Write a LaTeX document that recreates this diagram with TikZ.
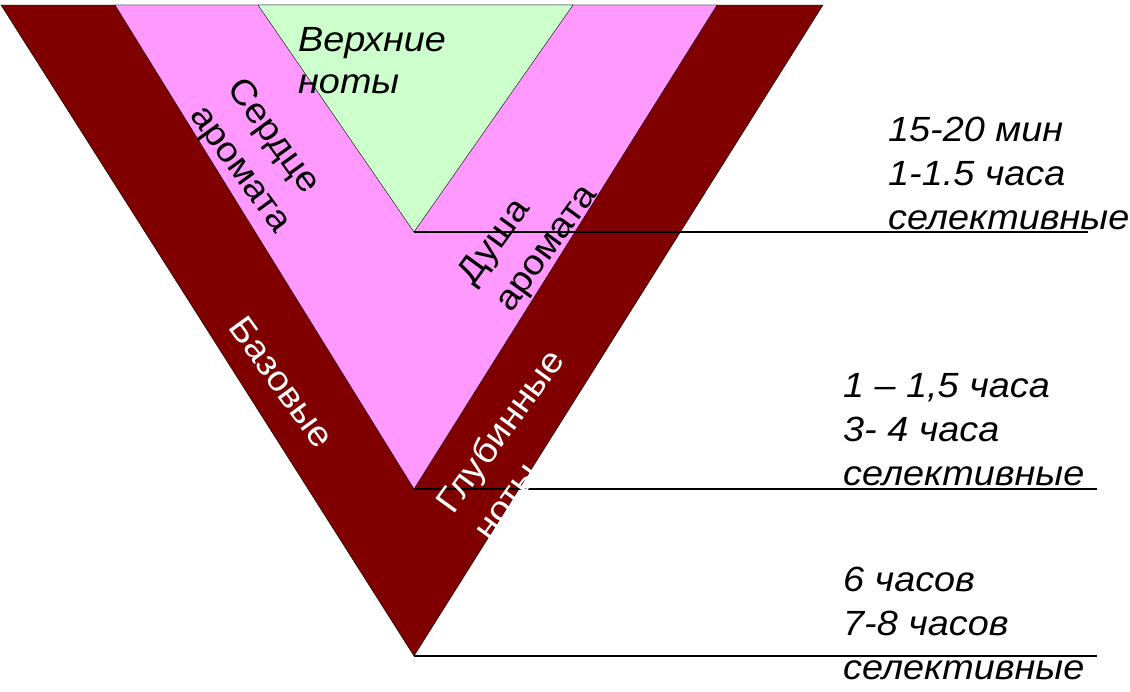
\documentclass[tikz,border=0pt]{standalone}
\usepackage{fontspec}
\setmainfont[FakeStretch=1.08]{Liberation Sans}
\definecolor{basered}{HTML}{800000}
\definecolor{heartpink}{HTML}{FF99FF}
\definecolor{topgreen}{HTML}{CCFFCC}
\begin{document}
\begin{tikzpicture}[x=1pt,y=-1pt,
  band/.style={font=\fontsize{35}{46}\selectfont,align=left,inner sep=0pt},
  times/.style={font=\itshape\fontsize{35}{44}\selectfont,align=left,anchor=west,inner sep=0pt}]
  \useasboundingbox (0,0) rectangle (1130,691);
  % nested triangles
  \draw[fill=basered] (1,5)--(823,5)--(414,656)--cycle;
  \draw[fill=heartpink] (115,5)--(717,5)--(414,489)--cycle;
  \draw[fill=topgreen] (258,5)--(573,5)--(414,232)--cycle;
  \coordinate (toptip) at (414,232);
  \coordinate (hearttip) at (414,489);
  \coordinate (basetip) at (414,656);
  \coordinate (topend) at (1088,232);
  \coordinate (heartend) at (1097,489);
  \coordinate (baseend) at (1097,656);
  \draw[line width=1.4pt] (toptip)--(topend);
  \draw[line width=1.4pt] (hearttip)--(heartend);
  \draw[line width=1.4pt] (basetip)--(baseend);
  % labels in the bands
  \node[band,font=\itshape\fontsize{35}{42}\selectfont,anchor=west] (topnotes) at (298,61) {Верхние\\ноты};
  \node[band,rotate=-54] (heart) at (258,156) {Сердце\\аромата};
  \node[band,rotate=54] (soul) at (529,236) {Душа\\аромата};
  \node[band,rotate=-54,text=white] (base) at (282,382) {Базовые};
  \node[band,rotate=54,text=white] (deep) at (518,444) {Глубинные\\ноты};
  % times on the right
  \node[times] (toptimes) at (888,173) {15-20 мин\\1-1.5 часа\\селективные};
  \node[times] (hearttimes) at (843,430) {1 – 1,5 часа\\3- 4 часа\\селективные};
  \node[times] (basetimes) at (843,623) {6 часов\\7-8 часов\\селективные};
\end{tikzpicture}
\end{document}
